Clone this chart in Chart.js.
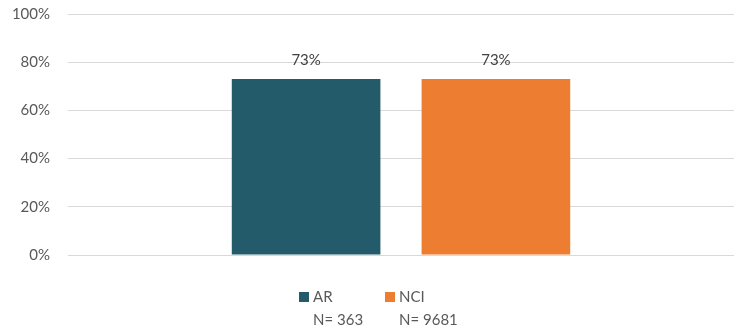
<!DOCTYPE html>
<html>
<head>
<meta charset="utf-8">
<script src="https://cdn.jsdelivr.net/npm/chart.js@4.4.1/dist/chart.umd.min.js"></script>
<style>
  html, body { margin: 0; padding: 0; background: #fff; }
  #wrap { position: relative; width: 734px; height: 332px; }
</style>
</head>
<body>
<div id="wrap"><canvas id="chart"></canvas></div>
<script>
const categories = [''];
const seriesNames = ['AR', 'NCI'];
const seriesCounts = ['N= 363', 'N= 9681'];
const seriesValues = [[73], [73]];
const seriesColors = ['#245B6B', '#ED7D31'];
const yTicks = [0, 20, 40, 60, 80, 100];

const FONT = 'Lato, "Open Sans", sans-serif';

// value labels above each bar
const barLabels = {
    id: 'barLabels',
    afterDatasetsDraw(chart) {
        const ctx = chart.ctx;
        ctx.save();
        ctx.font = '15px ' + FONT;
        ctx.fillStyle = '#404040';
        ctx.textAlign = 'center';
        ctx.textBaseline = 'bottom';
        chart.data.datasets.forEach((ds, i) => {
            chart.getDatasetMeta(i).data.forEach((bar, j) => {
                ctx.fillText(ds.data[j] + '%', bar.x, bar.y - 11);
            });
        });
        ctx.restore();
    }
};

// legend with a second line for the N counts
const twoLineLegend = {
    id: 'twoLineLegend',
    afterDraw(chart) {
        const ctx = chart.ctx;
        const xs = [299, 385];
        ctx.save();
        ctx.font = '15px ' + FONT;
        ctx.textBaseline = 'middle';
        seriesNames.forEach((name, i) => {
            ctx.fillStyle = seriesColors[i];
            ctx.fillRect(xs[i], 292, 10, 10);
            ctx.fillStyle = '#595959';
            ctx.fillText(name, xs[i] + 14, 297);
            ctx.fillText(seriesCounts[i], xs[i] + 14, 320);
        });
        ctx.restore();
    }
};

const chart = new Chart(document.getElementById('chart'), {
    type: 'bar',
    data: {
        labels: categories,
        datasets: seriesNames.map((name, i) => ({
            label: name,
            data: seriesValues[i],
            backgroundColor: seriesColors[i],
            categoryPercentage: 0.57,
            barPercentage: 0.783
        }))
    },
    options: {
        responsive: true,
        maintainAspectRatio: false,
        animation: false,
        layout: { padding: { top: 14, right: -6, bottom: 77, left: 0 } },
        plugins: {
            legend: { display: false },
            tooltip: { enabled: false }
        },
        scales: {
            x: {
                afterFit: s => { s.height = 0; s.paddingLeft = 0; s.paddingRight = 0; },
                ticks: { display: false },
                grid: { display: false },
                border: { display: true, color: '#D9D9D9', width: 1 }
            },
            y: {
                min: 0,
                max: 100,
                afterBuildTicks: s => { s.ticks = yTicks.map(v => ({ value: v })); },
                afterFit: s => { s.width = 68; s.paddingTop = 0; s.paddingBottom = 0; },
                ticks: {
                    padding: 18,
                    color: '#595959',
                    font: { family: FONT, size: 15 },
                    callback: v => v + '%'
                },
                grid: { color: '#D9D9D9', drawTicks: false },
                border: { display: false }
            }
        }
    },
    plugins: [barLabels, twoLineLegend]
});
</script>
</body>
</html>
